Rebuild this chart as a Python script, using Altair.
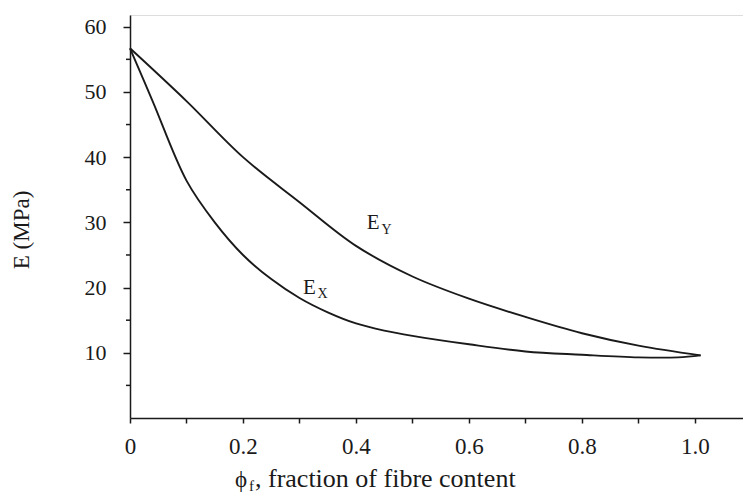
import altair as alt
import pandas as pd

# E_Y curve (upper)
phi_y = [0, 0.1, 0.2, 0.3, 0.4, 0.5, 0.6, 0.7, 0.8, 0.9, 1.01]
E_y = [56.7, 48.6, 40.0, 33.1, 26.4, 21.7, 18.3, 15.5, 13.0, 11.1, 9.6]

# E_X curve (lower)
phi_x = [0, 0.04, 0.1, 0.15, 0.2, 0.25, 0.3, 0.35, 0.4, 0.45, 0.5, 0.6, 0.7, 0.8, 0.9, 0.97, 1.01]
E_x = [56.7, 48.6, 36.4, 30.0, 25.0, 21.3, 18.4, 16.2, 14.5, 13.4, 12.6, 11.3, 10.2, 9.7, 9.3, 9.3, 9.6]

# curve labels (main letter + subscript), in data coordinates
lab_main = ["E", "E"]
lab_sub = ["X", "Y"]
lab_phi = [0.306, 0.419]
lab_E = [20.0, 29.9]
sub_phi = [0.332, 0.445]
sub_E = [19.0, 28.9]

x_ticks = [0, 0.1, 0.2, 0.3, 0.4, 0.5, 0.6, 0.7, 0.8, 0.9, 1.0]
y_major = [10, 20, 30, 40, 50, 60]
y_minor = [5, 15, 25, 35, 45, 55]

FONT = "Liberation Serif"
INK = "#1a1a1a"

df = pd.concat([
    pd.DataFrame({"phi": phi_y, "E": E_y, "s": "Y"}),
    pd.DataFrame({"phi": phi_x, "E": E_x, "s": "X"}),
])
labs = pd.DataFrame({"t": lab_main, "phi": lab_phi, "E": lab_E})
subs = pd.DataFrame({"t": lab_sub, "phi": sub_phi, "E": sub_E})
minor_df = pd.DataFrame({"E": y_minor})

xs = alt.Scale(domain=[0, 1.085], nice=False, zero=False)
ys = alt.Scale(domain=[0, 61.8], nice=False, zero=False)

x_axis = alt.Axis(
    values=x_ticks,
    labelExpr="datum.value == 0 ? '0' : (round(datum.value*10) % 2 == 0 ? format(datum.value, '.1f') : '')",
    grid=False, title=None, domainColor=INK, domainWidth=1.5,
    tickColor=INK, tickWidth=1.5, tickSize=5,
    labelFont=FONT, labelFontSize=23, labelColor=INK, labelPadding=12,
    labelFlush=False, labelOverlap=False,
)
y_axis = alt.Axis(
    values=y_major,
    grid=False, title=None, domainColor=INK, domainWidth=1.5,
    tickColor=INK, tickWidth=1.5, tickSize=7,
    labelFont=FONT, labelFontSize=22, labelColor=INK, labelPadding=17,
    labelFlush=False, labelOverlap=False,
)

lines = alt.Chart(df).mark_line(interpolate="catmull-rom", color=INK, strokeWidth=1.9).encode(
    x=alt.X("phi:Q", scale=xs, axis=x_axis),
    y=alt.Y("E:Q", scale=ys, axis=y_axis),
    detail="s:N",
)

minor = alt.Chart(minor_df).mark_rule(color=INK, strokeWidth=1.5).encode(
    x=alt.value(-4), x2=alt.value(0),
    y=alt.Y("E:Q", scale=ys),
)

main_txt = alt.Chart(labs).mark_text(
    font=FONT, fontSize=21, color=INK, align="left", baseline="middle"
).encode(x=alt.X("phi:Q", scale=xs), y=alt.Y("E:Q", scale=ys), text="t:N")

sub_txt = alt.Chart(subs).mark_text(
    font=FONT, fontSize=14, color=INK, align="left", baseline="middle"
).encode(x=alt.X("phi:Q", scale=xs), y=alt.Y("E:Q", scale=ys), text="t:N")

one = pd.DataFrame({"k": [0]})
ytitle = alt.Chart(one).mark_text(
    font=FONT, fontSize=23, color=INK, angle=270, align="center", baseline="middle"
).encode(x=alt.value(-108), y=alt.value(215), text=alt.value("E (MPa)"))

xt_phi = alt.Chart(one).mark_text(
    font=FONT, fontSize=23, color=INK, align="left", baseline="alphabetic"
).encode(x=alt.value(105), y=alt.value(472), text=alt.value("ϕ"))
xt_f = alt.Chart(one).mark_text(
    font=FONT, fontSize=15, color=INK, align="left", baseline="alphabetic"
).encode(x=alt.value(119), y=alt.value(476), text=alt.value("f"))
xt_rest = alt.Chart(one).mark_text(
    font=FONT, fontSize=26, color=INK, align="left", baseline="alphabetic"
).encode(x=alt.value(125), y=alt.value(472), text=alt.value(", fraction of fibre content"))

chart = alt.layer(lines, minor, main_txt, sub_txt, ytitle, xt_phi, xt_f, xt_rest).properties(
    width=613, height=403,
    padding={"left": 130, "top": 15, "right": 0, "bottom": 77},
    autosize=alt.AutoSizeParams(type="none"),
).configure_view(stroke=None).configure(background="white")

chart.save("out.html", embed_options={"renderer": "svg", "actions": False})
